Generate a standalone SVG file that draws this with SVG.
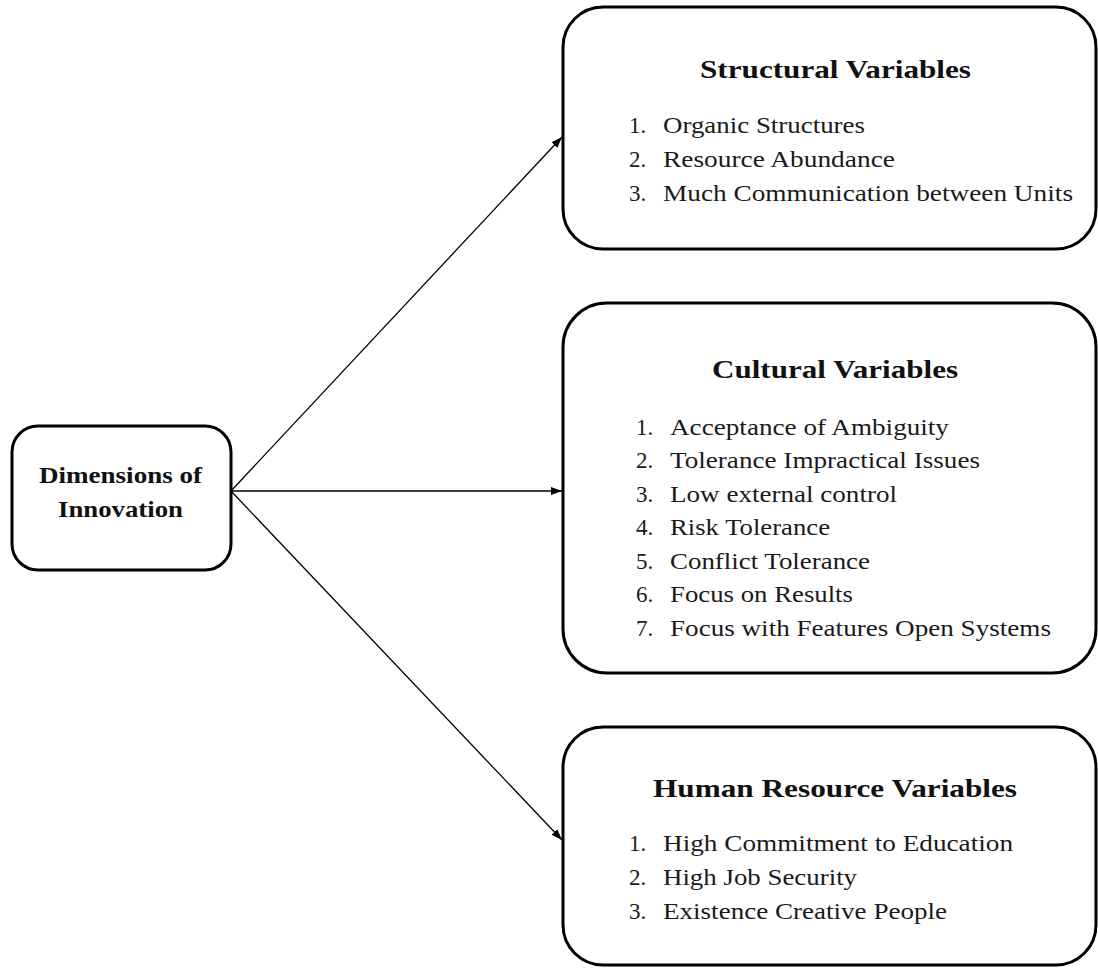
<svg xmlns="http://www.w3.org/2000/svg" width="1098" height="970" viewBox="0 0 1098 970">
<style>
.box{fill:#fff;stroke:#000;stroke-width:3}
.conn{stroke:#000;stroke-width:1.3;fill:none}
.t{font-family:"Liberation Serif","Times New Roman",serif;font-weight:bold;font-size:25px;fill:#111}
.lt{font-family:"Liberation Serif","Times New Roman",serif;font-weight:bold;font-size:24px;fill:#111;text-anchor:middle}
.i{font-family:"Liberation Serif","Times New Roman",serif;font-size:23px;fill:#1a1a1a}
</style>
<defs>
<marker id="ah" markerUnits="userSpaceOnUse" markerWidth="11" markerHeight="8" refX="11" refY="4" orient="auto">
<path d="M0,0 L11,4 L0,8 z" fill="#000"/>
</marker>
</defs>
<rect width="1098" height="970" fill="#fff"/>
<g id="connectors">
<line class="conn" x1="231" y1="491" x2="562" y2="137" marker-end="url(#ah)"/>
<line class="conn" x1="231" y1="491" x2="562" y2="491" marker-end="url(#ah)"/>
<line class="conn" x1="231" y1="491" x2="562" y2="840" marker-end="url(#ah)"/>
</g>
<g id="dimensions">
<rect class="box" x="12" y="426" width="219" height="144" rx="26"/>
<text class="lt" transform="translate(120.5,483) scale(1.073,1)" textLength="151.9" lengthAdjust="spacingAndGlyphs">Dimensions of</text>
<text class="lt" transform="translate(120.5,517) scale(1.073,1)" textLength="116.5" lengthAdjust="spacingAndGlyphs">Innovation</text>
</g>
<g id="structural">
<rect class="box" x="563" y="7" width="533" height="242" rx="40"/>
<text class="t" transform="translate(700,78) scale(1.229,1)" textLength="220.5" lengthAdjust="spacingAndGlyphs">Structural Variables</text>
<text class="i" x="629" y="133">1.</text>
<text class="i" transform="translate(663,133) scale(1.186,1)" textLength="170.3" lengthAdjust="spacingAndGlyphs">Organic Structures</text>
<text class="i" x="629" y="166.5">2.</text>
<text class="i" transform="translate(663,166.5) scale(1.186,1)" textLength="195.6" lengthAdjust="spacingAndGlyphs">Resource Abundance</text>
<text class="i" x="629" y="200.5">3.</text>
<text class="i" transform="translate(663,200.5) scale(1.186,1)" textLength="345.7" lengthAdjust="spacingAndGlyphs">Much Communication between Units</text>
</g>
<g id="cultural">
<rect class="box" x="563" y="303" width="533" height="370" rx="44"/>
<text class="t" transform="translate(712,378) scale(1.229,1)" textLength="200.2" lengthAdjust="spacingAndGlyphs">Cultural Variables</text>
<text class="i" x="636" y="434.5">1.</text>
<text class="i" transform="translate(670,434.5) scale(1.186,1)" textLength="235.2" lengthAdjust="spacingAndGlyphs">Acceptance of Ambiguity</text>
<text class="i" x="636" y="468">2.</text>
<text class="i" transform="translate(670,468) scale(1.186,1)" textLength="261.4" lengthAdjust="spacingAndGlyphs">Tolerance Impractical Issues</text>
<text class="i" x="636" y="501.5">3.</text>
<text class="i" transform="translate(670,501.5) scale(1.186,1)" textLength="191.4" lengthAdjust="spacingAndGlyphs">Low external control</text>
<text class="i" x="636" y="535">4.</text>
<text class="i" transform="translate(670,535) scale(1.186,1)" textLength="134.9" lengthAdjust="spacingAndGlyphs">Risk Tolerance</text>
<text class="i" x="636" y="568.5">5.</text>
<text class="i" transform="translate(670,568.5) scale(1.186,1)" textLength="168.6" lengthAdjust="spacingAndGlyphs">Conflict Tolerance</text>
<text class="i" x="636" y="602">6.</text>
<text class="i" transform="translate(670,602) scale(1.186,1)" textLength="154.3" lengthAdjust="spacingAndGlyphs">Focus on Results</text>
<text class="i" x="636" y="635.5">7.</text>
<text class="i" transform="translate(670,635.5) scale(1.186,1)" textLength="321.2" lengthAdjust="spacingAndGlyphs">Focus with Features Open Systems</text>
</g>
<g id="human">
<rect class="box" x="563" y="727" width="533" height="238" rx="40"/>
<text class="t" transform="translate(653,797) scale(1.229,1)" textLength="296.2" lengthAdjust="spacingAndGlyphs">Human Resource Variables</text>
<text class="i" x="629" y="851">1.</text>
<text class="i" transform="translate(663,851) scale(1.186,1)" textLength="295.1" lengthAdjust="spacingAndGlyphs">High Commitment to Education</text>
<text class="i" x="629" y="885">2.</text>
<text class="i" transform="translate(663,885) scale(1.186,1)" textLength="163.6" lengthAdjust="spacingAndGlyphs">High Job Security</text>
<text class="i" x="629" y="919">3.</text>
<text class="i" transform="translate(663,919) scale(1.186,1)" textLength="239.5" lengthAdjust="spacingAndGlyphs">Existence Creative People</text>
</g>
</svg>
